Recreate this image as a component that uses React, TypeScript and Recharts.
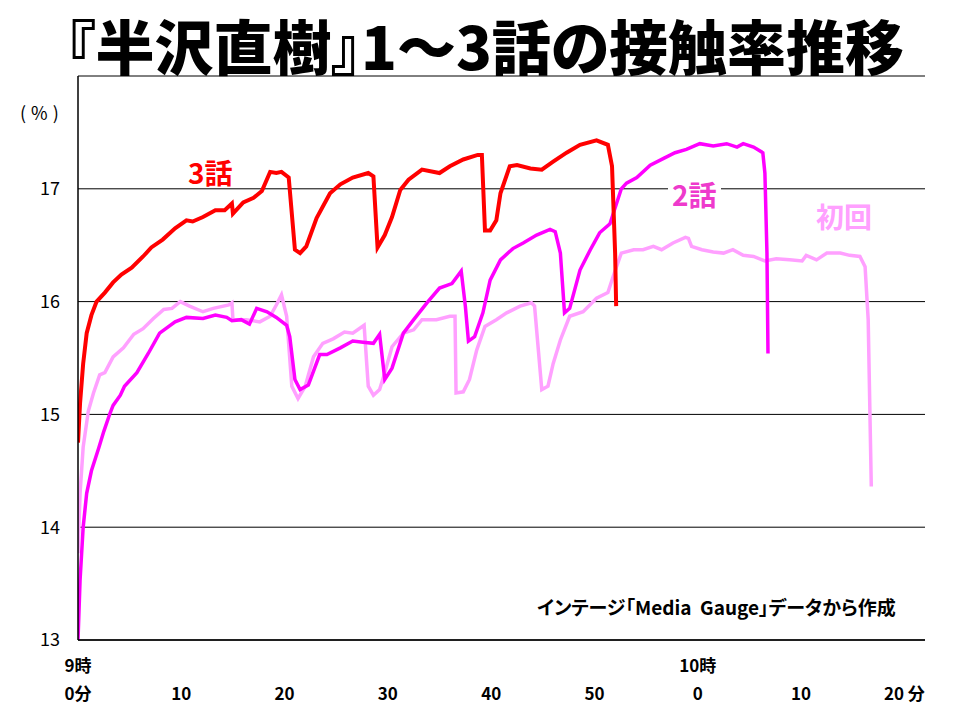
import React from 'react';
import { LineChart, Line, XAxis, YAxis, CartesianGrid } from 'recharts';

// 初回 (episode 1)
const ep1Minutes = [0, 0.2, 0.5, 1.0, 1.5, 2.1, 2.6, 3.4, 4.4, 5.4, 6.3, 7.3, 8.3, 9.1, 9.9, 10.8, 12.1, 13.1, 14.6, 14.9, 15.0, 16.3, 17.6, 18.6, 19.2, 19.7, 20.2, 20.7, 21.3, 22.0, 22.8, 23.7, 24.7, 25.8, 26.6, 27.7, 28.1, 28.6, 29.2, 29.7, 30.4, 31.5, 32.5, 33.3, 34.7, 36.0, 36.5, 36.6, 37.3, 37.9, 38.6, 39.4, 40.5, 41.5, 42.8, 43.9, 44.2, 44.9, 45.5, 46.0, 46.7, 47.6, 48.9, 50.2, 51.3, 51.8, 52.6, 53.8, 54.7, 55.7, 56.5, 57.6, 58.8, 59.1, 59.4, 60.4, 61.5, 62.5, 63.4, 64.4, 65.4, 66.5, 67.6, 68.9, 70.1, 70.5, 71.5, 72.5, 73.8, 74.7, 75.7, 76.2, 76.5, 76.8];
const ep1Values = [13.77, 14.3, 14.71, 15.03, 15.19, 15.35, 15.37, 15.51, 15.59, 15.71, 15.76, 15.85, 15.93, 15.94, 16.0, 15.96, 15.91, 15.94, 15.97, 15.99, 15.84, 15.84, 15.82, 15.87, 15.97, 16.06, 15.87, 15.25, 15.14, 15.25, 15.51, 15.63, 15.67, 15.73, 15.72, 15.79, 15.25, 15.17, 15.22, 15.37, 15.6, 15.72, 15.75, 15.84, 15.84, 15.87, 15.87, 15.19, 15.2, 15.31, 15.57, 15.78, 15.84, 15.9, 15.96, 15.99, 15.96, 15.22, 15.25, 15.45, 15.66, 15.87, 15.91, 16.03, 16.08, 16.22, 16.43, 16.46, 16.46, 16.49, 16.46, 16.52, 16.57, 16.56, 16.49, 16.46, 16.44, 16.43, 16.46, 16.41, 16.4, 16.36, 16.38, 16.37, 16.36, 16.41, 16.37, 16.43, 16.43, 16.41, 16.4, 16.31, 15.84, 14.36];

// 2話 (episode 2)
const ep2Minutes = [0, 0.2, 0.5, 0.84, 1.3, 2.0, 2.5, 3.1, 3.4, 4.1, 4.5, 5.7, 6.8, 7.9, 9.4, 10.5, 12.1, 13.3, 14.4, 14.9, 15.8, 16.6, 17.3, 18.3, 19.2, 20.2, 20.5, 21.0, 21.5, 22.3, 23.4, 24.1, 25.4, 26.6, 27.6, 28.6, 29.2, 29.7, 30.4, 31.5, 32.5, 33.8, 35.0, 36.2, 37.1, 37.5, 37.8, 38.4, 39.2, 39.9, 40.9, 42.1, 43.1, 44.4, 45.7, 46.2, 46.7, 47.1, 47.6, 48.6, 49.6, 50.5, 51.5, 52.6, 53.1, 54.1, 55.4, 56.7, 57.8, 58.9, 60.2, 61.5, 62.8, 63.8, 64.4, 65.4, 66.3, 66.5, 66.7, 66.8];
const ep2Values = [13.0, 13.53, 14.0, 14.3, 14.5, 14.7, 14.85, 15.01, 15.08, 15.17, 15.25, 15.37, 15.54, 15.72, 15.82, 15.86, 15.85, 15.88, 15.86, 15.83, 15.84, 15.8, 15.94, 15.91, 15.86, 15.79, 15.69, 15.31, 15.22, 15.26, 15.53, 15.53, 15.59, 15.65, 15.64, 15.63, 15.71, 15.31, 15.41, 15.72, 15.84, 15.99, 16.12, 16.16, 16.27, 15.96, 15.65, 15.69, 15.9, 16.19, 16.37, 16.47, 16.52, 16.59, 16.64, 16.62, 16.43, 15.9, 15.94, 16.28, 16.46, 16.61, 16.69, 17.0, 17.05, 17.1, 17.21, 17.27, 17.32, 17.35, 17.4, 17.38, 17.4, 17.37, 17.4, 17.37, 17.32, 17.14, 16.43, 15.54];

// 3話 (episode 3)
const ep3Minutes = [0, 0.2, 0.5, 0.84, 1.3, 1.8, 2.6, 3.4, 4.2, 5.2, 6.3, 7.1, 8.2, 9.4, 10.5, 11.1, 12.1, 13.3, 14.2, 14.9, 15.0, 16.0, 17.0, 17.8, 18.6, 19.2, 19.7, 20.4, 21.0, 21.5, 22.1, 23.1, 24.4, 25.4, 26.6, 28.1, 28.6, 29.0, 29.7, 30.4, 31.2, 32.0, 33.3, 35.0, 36.0, 37.3, 38.7, 39.1, 39.4, 39.9, 40.5, 40.9, 41.8, 42.5, 43.8, 44.9, 46.0, 47.3, 48.6, 50.2, 51.3, 51.7, 52.0, 52.1];
const ep3Values = [14.75, 15.1, 15.45, 15.72, 15.88, 16.0, 16.08, 16.17, 16.24, 16.3, 16.4, 16.48, 16.55, 16.65, 16.72, 16.71, 16.75, 16.81, 16.81, 16.87, 16.78, 16.88, 16.92, 16.98, 17.15, 17.14, 17.15, 17.1, 16.46, 16.43, 16.49, 16.74, 16.96, 17.04, 17.1, 17.14, 17.11, 16.48, 16.59, 16.75, 16.99, 17.08, 17.17, 17.14, 17.2, 17.26, 17.3, 17.3, 16.63, 16.63, 16.72, 16.96, 17.2, 17.21, 17.18, 17.17, 17.24, 17.32, 17.39, 17.43, 17.39, 17.2, 16.43, 15.96];

const yTicks = [13, 14, 15, 16, 17];
const xTicks = [0, 10, 20, 30, 40, 50, 60, 70, 80];
const hourLabels = ['9時', '', '', '', '', '', '10時', '', ''];
const minuteLabels = ['0分', '10', '20', '30', '40', '50', '0', '10', '20 分'];

const zip = (xs: number[], ys: number[]) => xs.map((m, i) => ({ m, v: ys[i] }));
const ep1Data = zip(ep1Minutes, ep1Values);
const ep2Data = zip(ep2Minutes, ep2Values);
const ep3Data = zip(ep3Minutes, ep3Values);

const FONT = '"Noto Sans CJK JP", "Noto Sans", sans-serif';

const XTick = (props: any) => {
  const { x, y, payload } = props;
  const i = xTicks.indexOf(payload.value);
  return (
    <g>
      <text x={x} y={y + 24} textAnchor="middle" fontFamily={FONT} fontSize={17} fontWeight={700} fill="#000">
        {hourLabels[i]}
      </text>
      <text x={x} y={y + 52} textAnchor="middle" fontFamily={FONT} fontSize={17} fontWeight={700} fill="#000">
        {minuteLabels[i]}
      </text>
    </g>
  );
};

const abs = (o: React.CSSProperties): React.CSSProperties => ({
  position: 'absolute',
  fontFamily: FONT,
  whiteSpace: 'nowrap',
  lineHeight: 1,
  margin: 0,
  ...o,
});

export default function App() {
  return (
    <div style={{ position: 'fixed', left: 0, top: 0, width: 960, height: 720, background: '#fff' }}>
      <LineChart
        width={960}
        height={720}
        margin={{ top: 76, right: 35, left: 0, bottom: 0 }}
      >
        <CartesianGrid vertical={false} stroke="#000" strokeWidth={1} strokeOpacity={1} />
        <XAxis
          type="number"
          dataKey="m"
          domain={[0, 82]}
          ticks={xTicks}
          allowDataOverflow
          tickLine={false}
          axisLine={{ stroke: '#000', strokeWidth: 1.5 }}
          height={80}
          tick={<XTick />}
          interval={0}
        />
        <YAxis
          type="number"
          domain={[13, 18]}
          ticks={yTicks}
          allowDataOverflow
          tickLine={false}
          axisLine={{ stroke: '#000', strokeWidth: 1.5 }}
          width={78}
          tickMargin={12}
          tick={{ fill: '#000', fontSize: 18, fontFamily: FONT }}
          interval={0}
        />
        <Line data={ep1Data} dataKey="v" type="linear" stroke="#ffa0ff" strokeWidth={3.5} dot={false} isAnimationActive={false} />
        <Line data={ep2Data} dataKey="v" type="linear" stroke="#ff00ff" strokeWidth={3.5} dot={false} isAnimationActive={false} />
        <Line data={ep3Data} dataKey="v" type="linear" stroke="#ff0000" strokeWidth={4} dot={false} isAnimationActive={false} />
      </LineChart>

      <div style={abs({ left: 0, width: 970, textAlign: 'center', top: 15, fontSize: 59, fontWeight: 900, color: '#000', fontFeatureSettings: '"palt"' })}>
        『半沢直樹』1～3話の接触率推移
      </div>
      <div style={abs({ left: 20, top: 103, fontSize: 18, letterSpacing: 5, color: '#000' })}>(%)</div>
      <div style={abs({ left: 188, top: 158, fontSize: 28, fontWeight: 700, color: '#ff0000' })}>3話</div>
      <div style={abs({ left: 668, top: 180, fontSize: 28, fontWeight: 700, color: '#ee3acc', background: '#fff', padding: '0 4px' })}>2話</div>
      <div style={abs({ left: 816, top: 202, fontSize: 28, fontWeight: 700, color: '#ffa0ff' })}>初回</div>
      <div style={abs({ left: 537, top: 597, fontSize: 19, fontWeight: 700, color: '#000', fontFeatureSettings: '"palt"' })}>
        インテージ「Media&nbsp;&nbsp;Gauge」データから作成
      </div>
    </div>
  );
}
